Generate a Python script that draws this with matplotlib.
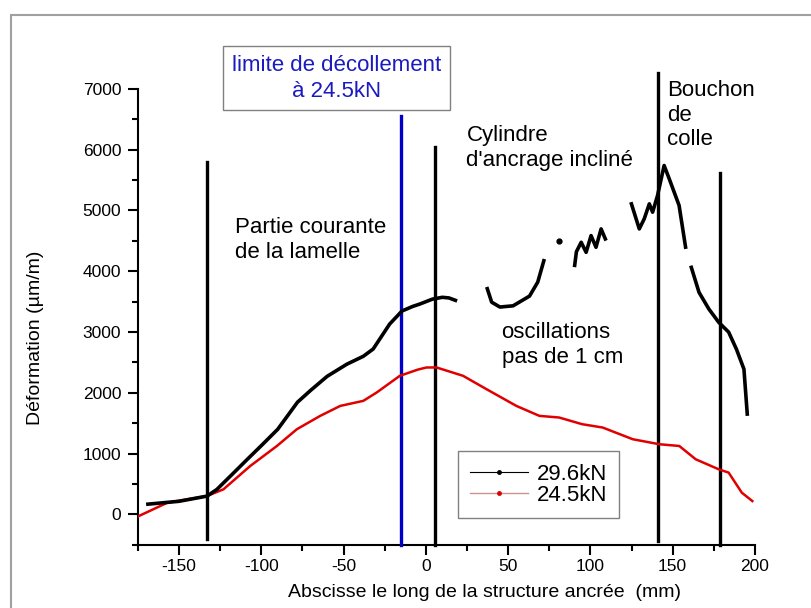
import numpy as np
import matplotlib
matplotlib.use('Agg')
import matplotlib.pyplot as plt
from matplotlib.lines import Line2D
from matplotlib.patches import Rectangle

plt.rcParams['font.family'] = ['Liberation Sans', 'DejaVu Sans']
plt.rcParams['axes.unicode_minus'] = False

# 29.6kN trace, gauges missing between segments (NaN = break)
x_296 = [-170, -150, -133, -127, -118, -108.5, -100, -90, -78, -70, -60, -48, -38, -32, -22, -14.5, -8, -3.6, 4, 10, 14, 19,
         np.nan,
         37, 40, 45, 53, 63, 68, 72,
         np.nan,
         90.3, 91.5, 94.4, 97.4, 100.4, 103.4, 106.5, 109.5,
         np.nan,
         124.6, 129.7, 132.7, 135.8, 137.8, 140.8, 144.8, 147.9, 150.9, 153.9, 158,
         np.nan,
         161, 166, 172, 178, 184, 188.8, 193.3, 195.4]
y_296 = [165, 215, 300, 410, 650, 905, 1130, 1400, 1845, 2040, 2270, 2470, 2600, 2720, 3130, 3345, 3420, 3460, 3540, 3570, 3560, 3510,
         np.nan,
         3740, 3490, 3410, 3430, 3590, 3820, 4200,
         np.nan,
         4066, 4320, 4475, 4310, 4585, 4393, 4695, 4503,
         np.nan,
         5135, 4695, 4860, 5107, 4970, 5244, 5738, 5519, 5300, 5080, 4366,
         np.nan,
         4091, 3652, 3377, 3158, 2998, 2713, 2389, 1620]
x_296_pt = [81]
y_296_pt = [4500]

# 24.5kN trace
x_245 = [-174.4, -157, -133, -123, -106.7, -90.5, -78.4, -64.2, -52, -38, -29.9, -15.8, -5, 0.4, 6.5, 22.6, 36.8, 55, 69,
         81, 95, 107.5, 125.7, 142, 154, 164, 178, 184, 192, 198.4]
y_245 = [-27, 193, 302, 412, 796, 1125, 1400, 1620, 1784, 1867, 2004, 2279, 2380, 2416, 2416, 2279, 2060, 1784, 1620,
         1593, 1483, 1428, 1236, 1153, 1125, 906, 741, 687, 357, 219]

# zone boundaries: position, bottom, top
bounds_x = [-133, 5.5, 141, 179]
bounds_lo = [-410, -500, -440, -500]
bounds_hi = [5790, 6050, 7265, 5620]

limit_x = -15
limit_hi = 6557

fig = plt.figure(figsize=(8.11, 6.08), dpi=100)
fig.patches.append(Rectangle((11 / 811, -0.1), 1.2, 1 - 15 / 608 + 0.1, transform=fig.transFigure,
                             fill=False, edgecolor='#a0a0a0', linewidth=1.5))
ax = fig.add_axes([0.1700, 0.1040, 0.7609, 0.750])

for bx, lo, hi in zip(bounds_x, bounds_lo, bounds_hi):
    ax.plot([bx, bx], [lo, hi], color='black', linewidth=2.4, clip_on=False, zorder=3)
ax.plot([limit_x, limit_x], [-500, limit_hi], color='#0000c8', linewidth=2.4, clip_on=False, zorder=3)

ax.plot(x_245, y_245, color='#e00000', linewidth=1.8, zorder=4)
ax.plot(x_296, y_296, color='black', linewidth=2.6, zorder=5, solid_capstyle='butt')
ax.plot(x_296_pt, y_296_pt, 'o', color='black', markersize=3.5, zorder=5)

ax.set_xlim(-175, 200)
ax.set_ylim(-500, 7000)
ax.set_xticks(np.arange(-150, 201, 50))
ax.set_xticks(np.arange(-175, 201, 25), minor=True)
ax.set_yticks(np.arange(0, 7001, 1000))
ax.set_yticks(np.arange(-500, 7001, 500), minor=True)
for s in ['top', 'right']:
    ax.spines[s].set_visible(False)
for s in ['left', 'bottom']:
    ax.spines[s].set_linewidth(1.5)
ax.tick_params(which='major', length=7, width=1.5, labelsize=12.5, direction='out')
ax.tick_params(which='minor', length=4, width=1.5, direction='out')
ax.tick_params(axis='y', pad=5)
ax.tick_params(axis='x', pad=3)

ax.set_xlabel('Abscisse le long de la structure ancrée  (mm)', fontsize=14)
ax.xaxis.set_label_coords(0.5625, -0.085)
ax.set_ylabel('Déformation (µm/m)', fontsize=14)
ax.yaxis.set_label_coords(-0.152, 0.4535)

ax.text(-54.5, 7175, 'limite de décollement\nà 24.5kN', color='#1a1ac0', fontsize=16, ha='center', va='center',
        linespacing=1.3, clip_on=False, zorder=6,
        bbox=dict(boxstyle='square,pad=0.4', facecolor='white', edgecolor='#808080', linewidth=1))
ax.text(-116, 4884, 'Partie courante\nde la lamelle', fontsize=16, ha='left', va='top', linespacing=1.2)
ax.text(24.7, 6397, "Cylindre\nd'ancrage incliné", fontsize=16, ha='left', va='top', linespacing=1.2)
ax.text(146.7, 7137, 'Bouchon\nde\ncolle', fontsize=16, ha='left', va='top', linespacing=1.2, clip_on=False)
ax.text(46, 3157, 'oscillations\npas de 1 cm', fontsize=16, ha='left', va='top', linespacing=1.2)

handles = [Line2D([], [], color='black', linewidth=0.8, marker='o', markersize=2.5),
           Line2D([], [], color='#d09090', linewidth=1.0, marker='o', markersize=2.5,
                  markerfacecolor='#e00000', markeredgecolor='#e00000')]
leg = ax.legend(handles, ['29.6kN', '24.5kN'], loc='lower left', bbox_to_anchor=(0.518, 0.059),
                fontsize=16, frameon=True, fancybox=False, handlelength=2.6, handletextpad=0.4,
                labelspacing=0.0, borderpad=0.55, borderaxespad=0)
leg.get_frame().set_edgecolor('#606060')
leg.get_frame().set_linewidth(1)

fig.savefig('out.png', dpi=100)
